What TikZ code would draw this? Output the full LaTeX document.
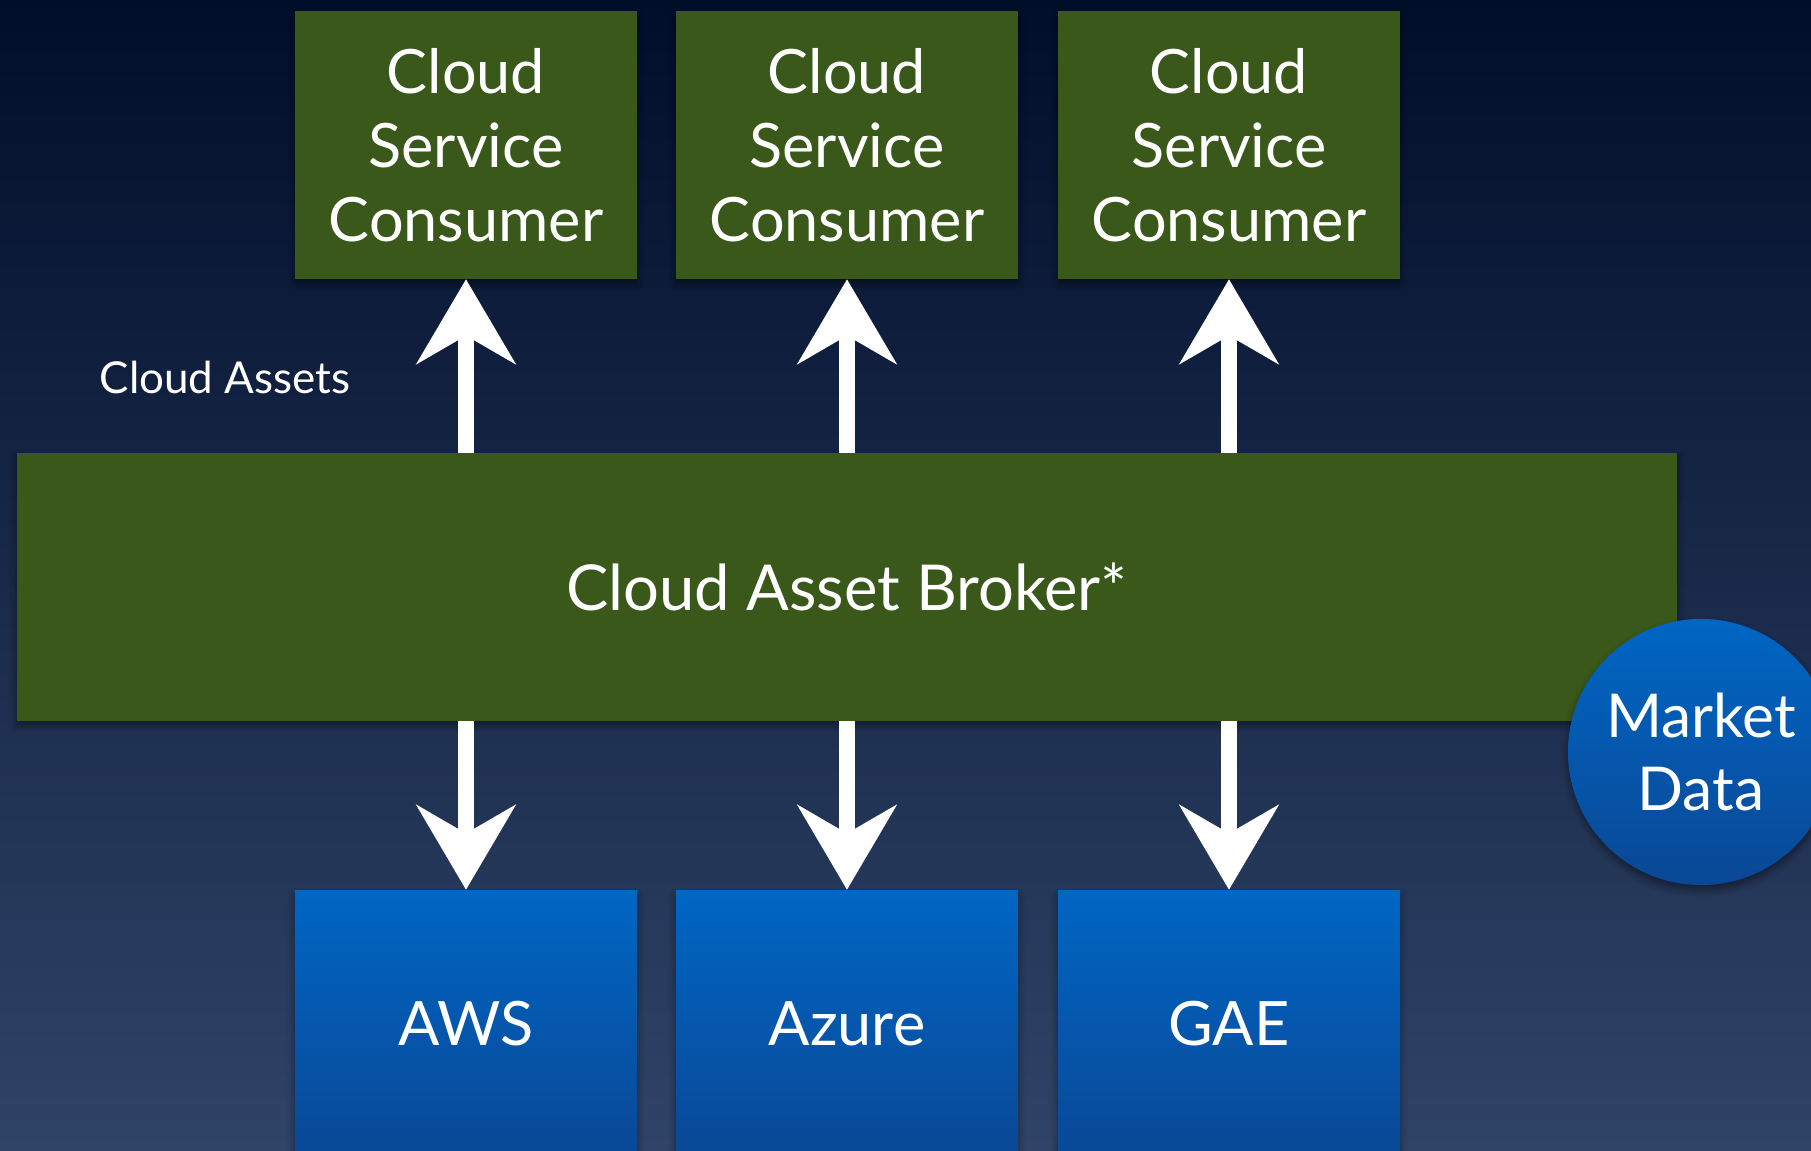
\documentclass[tikz,border=0pt]{standalone}
\usepackage{fontspec}
\setmainfont{Lato}
\usetikzlibrary{arrows.meta, positioning, shadows.blur}

\definecolor{bgtop}{RGB}{1,14,42}
\definecolor{bgbottom}{RGB}{48,68,104}
\definecolor{brokergreen}{RGB}{59,88,27}
\definecolor{cloudtop}{RGB}{0,102,196}
\definecolor{cloudbottom}{RGB}{10,72,150}

\tikzset{
  softshadow/.style={blur shadow={shadow xshift=0pt, shadow yshift=-1.5pt, shadow blur steps=6, shadow opacity=45}},
  greenbox/.style={rectangle, fill=brokergreen, text=white, inner sep=0pt,
    minimum width=3.42cm, minimum height=2.67cm, align=center,
    font=\fontsize{17.4}{21}\selectfont, softshadow},
  bluebox/.style={greenbox, fill=none, top color=cloudtop, bottom color=cloudbottom},
  chalkarrow/.style={white, line width=4.3pt, -{Stealth[length=24pt, width=28pt, inset=8pt]}},
}

\begin{document}
\begin{tikzpicture}[x=0.01cm, y=-0.01cm]
  % Latar belakang
  \useasboundingbox (0,0) rectangle (1811,1151);
  \clip (0,0) rectangle (1811,1151);
  \shade[top color=bgtop, bottom color=bgbottom] (0,0) rectangle (1811,1151);

  % Konsumen dan penyedia
  \foreach \i/\xc/\prov/\name in {1/466/aws/AWS, 2/847/azure/Azure, 3/1229/gae/GAE} {
    \node[greenbox] (csc\i) at (\xc,145) {Cloud\\Service\\Consumer};
    \node[bluebox] (\prov) at (\xc,1024) {\name};
  }

  % Broker
  \node[greenbox, minimum width=16.6cm, font=\fontsize{18}{22}\selectfont] (broker) at (847,587) {Cloud Asset Broker*};
  \node[circle, top color=cloudtop, bottom color=cloudbottom, text=white, minimum size=2.66cm,
    inner sep=0pt, align=center, font=\fontsize{17.2}{21}\selectfont, softshadow] (market) at (1701,752) {Market\\Data};

  \node[text=white, font=\fontsize{12.5}{15}\selectfont] (assets) at (225,377) {Cloud Assets};

  % Panah
  \foreach \i/\prov in {1/aws, 2/azure, 3/gae} {
    \draw[chalkarrow] (broker.north -| csc\i.south) -- (csc\i.south);
    \draw[chalkarrow] (broker.south -| \prov.north) -- (\prov.north);
  }
\end{tikzpicture}
\end{document}
